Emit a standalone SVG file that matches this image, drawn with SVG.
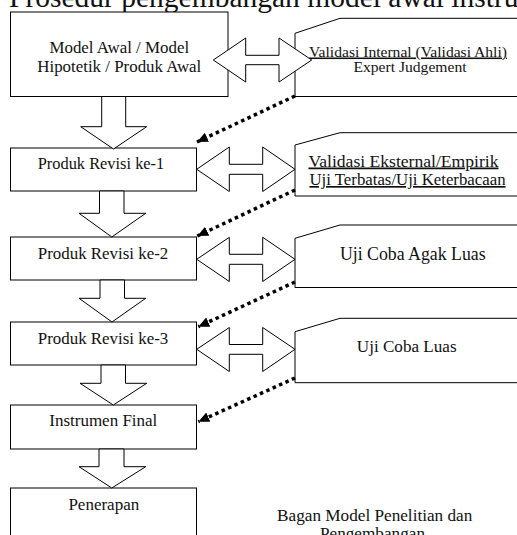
<svg xmlns="http://www.w3.org/2000/svg" width="517" height="535" viewBox="0 0 517 535">
<defs>
<style>
.box{fill:#fff;stroke:#000;stroke-width:1}
.arw{fill:#fff;stroke:#000;stroke-width:1;stroke-linejoin:miter}
.dot{fill:none;stroke:#000;stroke-width:3.5;stroke-dasharray:3.5 3.5}
text{font-family:"Liberation Serif","Times New Roman",serif;fill:#111;text-anchor:middle}
.u{text-decoration:underline}
</style>
<marker id="ah" markerUnits="userSpaceOnUse" markerWidth="12" markerHeight="11" refX="11" refY="5" orient="auto">
<path d="M0,0 L11,5 L0,10 z" fill="#000"/>
</marker>
</defs>
<rect width="517" height="535" fill="#fff"/>
<text x="9" y="7" style="font-size:29.5px;text-anchor:start">Prosedur pengembangan model awal instru</text>

<g id="n-model-awal">
<rect class="box" x="10.5" y="12" width="217.5" height="84.5"/>
<text x="119.3" y="53" font-size="16.9">Model Awal / Model</text>
<text x="119.3" y="71.5" font-size="16.9">Hipotetik / Produk Awal</text>
</g>
<g id="n-revisi-1">
<rect class="box" x="10.5" y="148" width="186" height="43"/>
<text x="101" y="169" font-size="16.4">Produk Revisi ke-1</text>
</g>
<g id="n-revisi-2">
<rect class="box" x="10.5" y="237" width="186" height="43"/>
<text x="103" y="259" font-size="16.9">Produk Revisi ke-2</text>
</g>
<g id="n-revisi-3">
<rect class="box" x="10.5" y="322" width="186" height="43"/>
<text x="103" y="343.5" font-size="16.9">Produk Revisi ke-3</text>
</g>
<g id="n-final">
<rect class="box" x="10.5" y="405" width="186" height="44"/>
<text x="103.3" y="426" font-size="17">Instrumen Final</text>
</g>
<g id="n-penerapan">
<rect class="box" x="10.5" y="488" width="186" height="60"/>
<text x="103.8" y="509.5" font-size="17">Penerapan</text>
</g>

<g id="n-validasi-internal">
<polygon class="box" points="295,96.5 295,33.3 340,18.3 530,18.3 530,96.5"/>
<text class="u" x="408" y="56.5" font-size="15.6">Validasi Internal (Validasi Ahli)</text>
<text x="410" y="72" font-size="15.6">Expert Judgement</text>
</g>
<g id="n-validasi-eksternal">
<polygon class="box" points="295,196 295,145 340,132.7 530,132.7 530,196"/>
<text class="u" x="403.5" y="166.5" font-size="17.6">Validasi Eksternal/Empirik</text>
<text class="u" x="407.5" y="185" font-size="16.8">Uji Terbatas/Uji Keterbacaan</text>
</g>
<g id="n-uji-agak-luas">
<polygon class="box" points="295,287.5 295,238.3 340,225 530,225 530,287.5"/>
<text x="412.8" y="260" font-size="17.8">Uji Coba Agak Luas</text>
</g>
<g id="n-uji-luas">
<polygon class="box" points="295,382.7 295,331.7 340,318.3 530,318.3 530,382.7"/>
<text x="406.7" y="351.7" font-size="17.1">Uji Coba Luas</text>
</g>

<g id="n-caption">
<text x="374.7" y="520.5" font-size="17.2">Bagan Model Penelitian dan</text>
<text x="372.5" y="538.5" font-size="17.2">Pengembangan</text>
</g>

<g id="connectors">
<polygon class="arw" points="213.3,60 245.7,38 245.7,55.3 279,55.3 279,38 311.7,60 279,82 279,64.7 245.7,64.7 245.7,82"/>
<polygon class="arw" points="196.7,169.3 229.3,147 229.3,164.3 262.7,164.3 262.7,147 295,169.3 262.7,191.5 262.7,174.3 229.3,174.3 229.3,191.5"/>
<polygon class="arw" points="196.7,259.3 229.3,237.3 229.3,254.3 262.7,254.3 262.7,237.3 295,259.3 262.7,281.5 262.7,264.3 229.3,264.3 229.3,281.5"/>
<polygon class="arw" points="196.7,349.3 229.3,327.5 229.3,344.5 262.7,344.5 262.7,327.5 295,349.3 262.7,371.5 262.7,354.3 229.3,354.3 229.3,371.5"/>

<polygon class="arw" points="101.7,96.5 125.7,96.5 125.7,126.7 146.7,126.7 113.5,149 80.7,126.7 101.7,126.7"/>
<polygon class="arw" points="99.5,191 124,191 124,213.3 145.7,213.3 111.8,237 79,213.3 99.5,213.3"/>
<polygon class="arw" points="100,280 124.5,280 124.5,298.3 145.7,298.3 112,322 79,298.3 100,298.3"/>
<polygon class="arw" points="101,365 125.5,365 125.5,383.3 146.7,383.3 113.3,405 80,383.3 101,383.3"/>
<polygon class="arw" points="99,449 124,449 124,466.7 145.7,466.7 111.8,488 79,466.7 99,466.7"/>

<line class="dot" x1="295" y1="96" x2="197" y2="142" marker-end="url(#ah)"/>
<line class="dot" x1="295" y1="190" x2="197.3" y2="236" marker-end="url(#ah)"/>
<line class="dot" x1="295" y1="282" x2="198.3" y2="326.7" marker-end="url(#ah)"/>
<line class="dot" x1="295" y1="378" x2="198.3" y2="421.7" marker-end="url(#ah)"/>
</g>
</svg>
